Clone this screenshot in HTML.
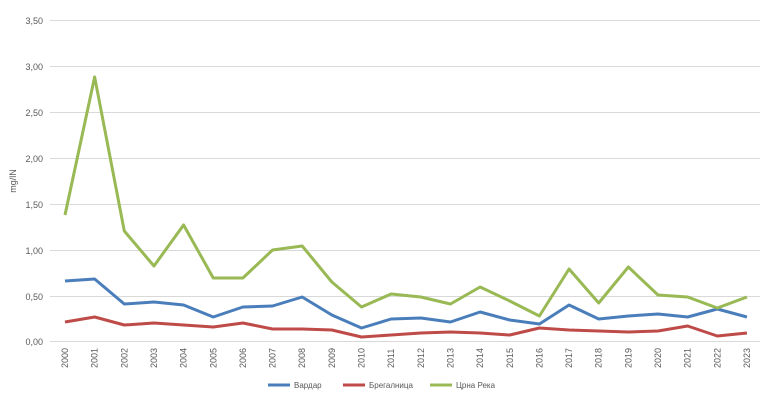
<!DOCTYPE html><html><head><meta charset="utf-8"><style>body{margin:0;background:#fff}svg{display:block}text{font-family:"Liberation Sans",sans-serif;fill:#595959}</style></head><body>
<svg width="773" height="407" xmlns="http://www.w3.org/2000/svg">
<g stroke="#d9d9d9" stroke-width="1">
<line x1="50" x2="760" y1="20.5" y2="20.5"/><line x1="50" x2="760" y1="66.5" y2="66.5"/><line x1="50" x2="760" y1="112.5" y2="112.5"/><line x1="50" x2="760" y1="158.5" y2="158.5"/><line x1="50" x2="760" y1="204.5" y2="204.5"/><line x1="50" x2="760" y1="250.5" y2="250.5"/><line x1="50" x2="760" y1="296.5" y2="296.5"/><line x1="50" x2="760" y1="341.5" y2="341.5"/>
</g>
<g font-size="9" text-anchor="end">
<text x="43" y="24">3,50</text><text x="43" y="70">3,00</text><text x="43" y="116">2,50</text><text x="43" y="162">2,00</text><text x="43" y="208">1,50</text><text x="43" y="254">1,00</text><text x="43" y="300">0,50</text><text x="43" y="345">0,00</text>
</g>
<text font-size="9" transform="translate(16,181) rotate(-90)" text-anchor="middle">mg/lN</text>
<g font-size="9" id="xl"></g>
<g fill="none" stroke-width="3" stroke-linejoin="round" id="ln"></g>
<g font-size="8">
<line x1="268" x2="290" y1="385" y2="385" stroke="#4a7ebb" stroke-width="3"/><text x="294" y="388">Вардар</text>
<line x1="343" x2="365" y1="385" y2="385" stroke="#be4b48" stroke-width="3"/><text x="369" y="388">Брегалница</text>
<line x1="430" x2="452" y1="385" y2="385" stroke="#98b954" stroke-width="3"/><text x="456" y="388">Црна Река</text>
</g>
<script>
var x0=65,dx=29.65,ns="http://www.w3.org/2000/svg";
var xl=document.getElementById('xl');
for(var i=0;i<24;i++){var t=document.createElementNS(ns,'text');var x=x0+i*dx+3;t.setAttribute('transform','translate('+x+',368) rotate(-90)');t.textContent=2000+i;xl.appendChild(t);}
var S=[["#98b954",[215,77,231,266,225,278,278,250,246,282,307,294,297,304,287,301,316,269,303,267,295,297,308,297]],
["#4a7ebb",[281,279,304,302,305,317,307,306,297,315,328,319,318,322,312,320,324,305,319,316,314,317,309,317]],
["#be4b48",[322,317,325,323,325,327,323,329,329,330,337,335,333,332,333,335,328,330,331,332,331,326,336,333]]];
var ln=document.getElementById('ln');
[S[2],S[1],S[0]].forEach(function(s){var p=document.createElementNS(ns,'polyline');p.setAttribute('points',s[1].map(function(y,i){return (x0+i*dx)+','+y}).join(' '));p.setAttribute('stroke',s[0]);ln.appendChild(p);});
</script>
</svg></body></html>
